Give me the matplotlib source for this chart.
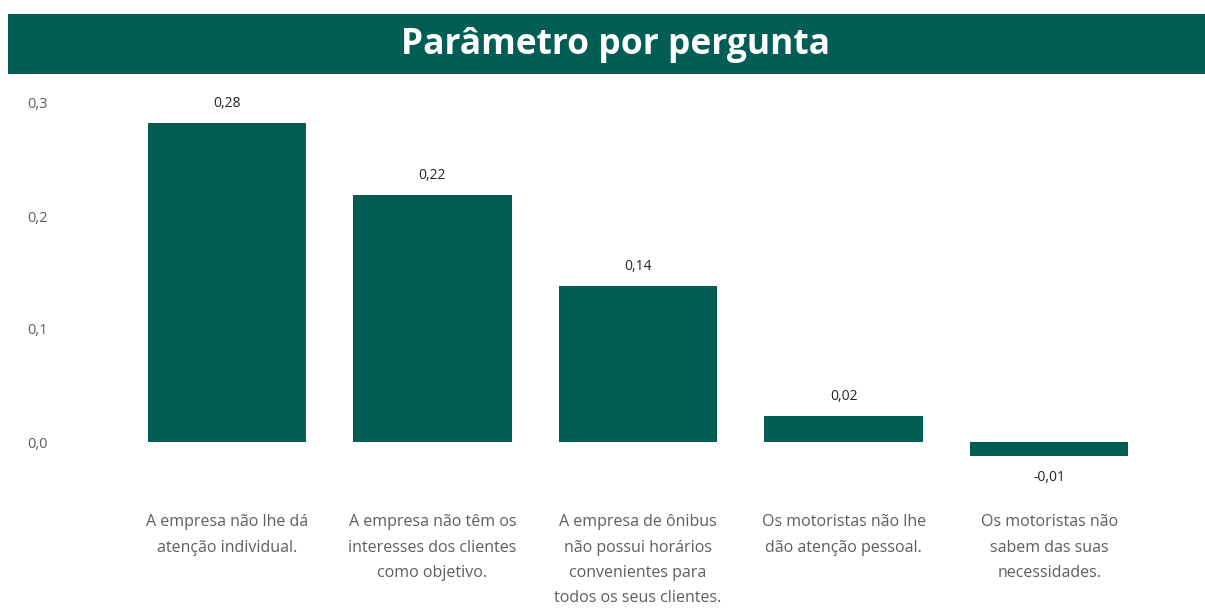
import matplotlib
matplotlib.use('Agg')
from matplotlib import pyplot as plt
from matplotlib.patches import Rectangle

# =============================================================================
# Data
# =============================================================================
perguntas = ['A empresa não lhe dá\natenção individual.',
             'A empresa não têm os\ninteresses dos clientes\ncomo objetivo.',
             'A empresa de ônibus\nnão possui horários\nconvenientes para\ntodos os seus clientes.',
             'Os motoristas não lhe\ndão atenção pessoal.',
             'Os motoristas não\nsabem das suas\nnecessidades.']
parametros = [0.282, 0.219, 0.138, 0.023, -0.012]
y_ticks = [0.0, 0.1, 0.2, 0.3]

verde = '#025E55'
cinza = '#605E5C'

plt.rcParams['font.family'] = ['Open Sans', 'DejaVu Sans']

fig = plt.figure(figsize=[12.05, 6.08], dpi=100)

# title bar
fig.patches.append(Rectangle((8/1205, 1-74/608), 1, 60/608, transform=fig.transFigure,
                             facecolor=verde, edgecolor='none', zorder=0))
fig.text(0.511, 1-45/608, 'Parâmetro por pergunta', color='white', fontsize=25.5,
         fontweight='bold', ha='center', va='center')

ax = fig.add_axes([124/1205, (608-470.25)/608, 1028/1205, (470.25-91.7)/608])
x = range(len(parametros))
ax.bar(x, parametros, width=0.77, color=verde)
ax.set_xlim(-0.5, 4.5)
ax.set_ylim(-0.025, 0.31)

for s in ax.spines.values():
    s.set_visible(False)
ax.set_xticks([])
ax.set_yticks(y_ticks)
ax.set_yticklabels([('%.1f' % v).replace('.', ',') for v in y_ticks], ha='left')
ax.tick_params(axis='y', length=0, pad=70, labelsize=10.5, labelcolor=cinza)

# value labels
for i, v in enumerate(parametros):
    txt = ('%.2f' % v).replace('.', ',')
    if v >= 0:
        ax.annotate(txt, (i, v), xytext=(0, 14), textcoords='offset points',
                    ha='center', va='center', fontsize=10, color='#252423')
    else:
        ax.annotate(txt, (i, v), xytext=(0, -16), textcoords='offset points',
                    ha='center', va='center', fontsize=10, color='#252423')

# category labels
for i, p in enumerate(perguntas):
    ax.text(i, -0.064, p, ha='center', va='top', fontsize=11.5, color=cinza,
            linespacing=1.78)

plt.savefig('out.png', dpi=100)
